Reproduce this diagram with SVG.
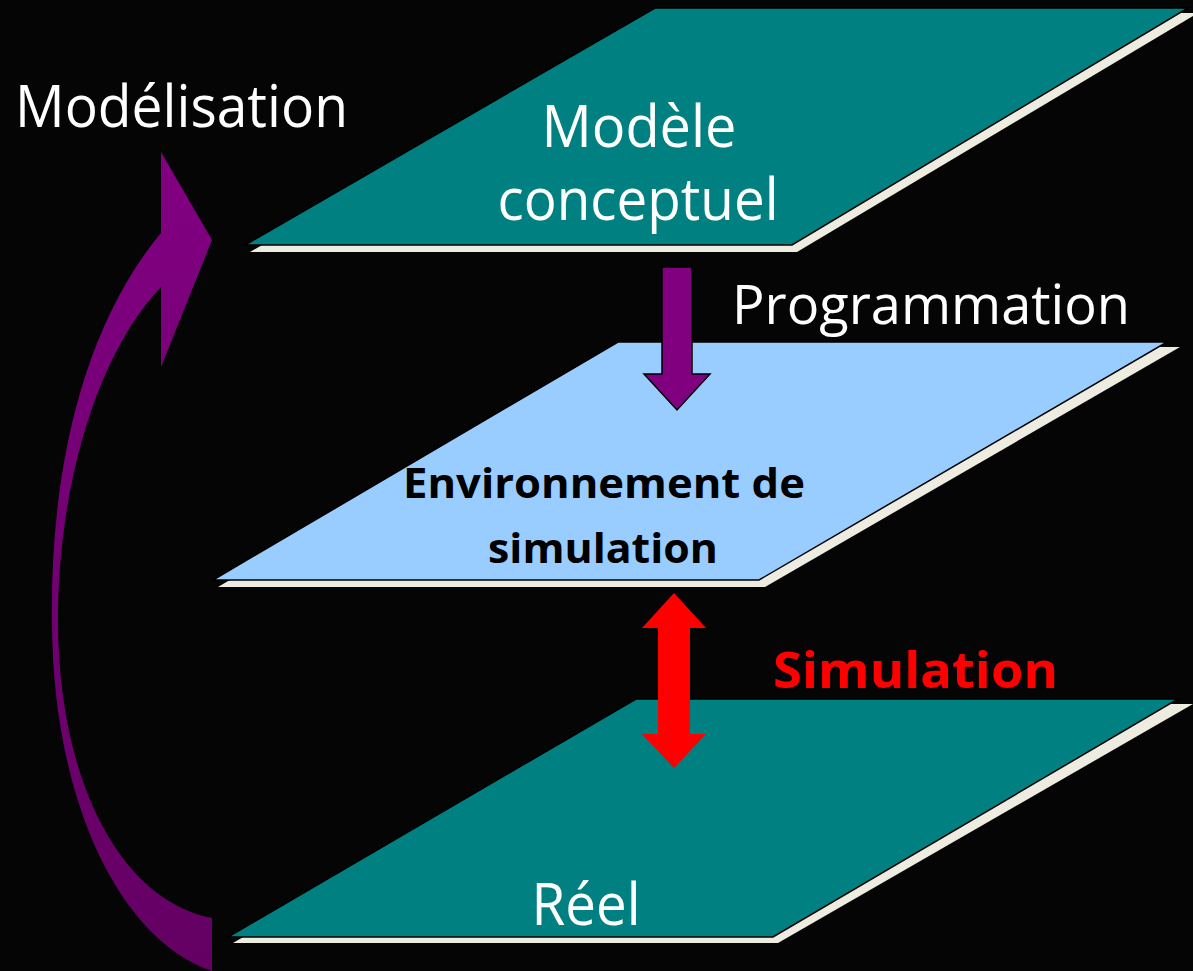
<svg xmlns="http://www.w3.org/2000/svg" width="1193" height="971" viewBox="0 0 1193 971">
  <style>
    .shadow { fill: #EEECE1; }
    .teal { fill: #008080; stroke: #000; stroke-width: 1.5; }
    .blue { fill: #99CCFF; stroke: #000; stroke-width: 1.5; }
    .lbl { font-family: "Open Sans", "Noto Sans", "Liberation Sans", sans-serif; }
    .white { fill: #FFFFFF; font-size: 58px; }
    .bold { font-weight: bold; }
  </style>
  <defs>
    <linearGradient id="purpleGrad" gradientUnits="userSpaceOnUse" x1="0" y1="150" x2="0" y2="971">
      <stop offset="0" stop-color="#820082"/>
      <stop offset="1" stop-color="#640064"/>
    </linearGradient>
  </defs>
  <rect x="0" y="0" width="1193" height="971" fill="#050505"/>

  <g id="node-modele-conceptuel">
    <polygon class="shadow" points="660,13 1193,13 1193,16 797,252 250,252"/>
    <polygon class="teal" points="655,8 1188,8 792,245 245,245"/>
    <text class="lbl white" x="639" y="147" text-anchor="middle" textLength="195" lengthAdjust="spacingAndGlyphs">Modèle</text>
    <text class="lbl white" x="638" y="220" text-anchor="middle" textLength="281" lengthAdjust="spacingAndGlyphs">conceptuel</text>
  </g>

  <g id="node-environnement">
    <polygon class="shadow" points="623,347 1180,347 765,587 218,587"/>
    <polygon class="blue" points="618,342 1167,342 759,580 213,580"/>
    <text class="lbl bold" x="604" y="498" font-size="41" fill="#000" text-anchor="middle" textLength="402" lengthAdjust="spacingAndGlyphs">Environnement de</text>
    <text class="lbl bold" x="603" y="563" font-size="41" fill="#000" text-anchor="middle" textLength="230" lengthAdjust="spacingAndGlyphs">simulation</text>
  </g>

  <g id="node-reel">
    <polygon class="shadow" points="641,704 1193,704 778,943 233,943"/>
    <polygon class="teal" points="636,699 1178,699 773,937 228,937"/>
    <text class="lbl white" x="586" y="925" text-anchor="middle" textLength="109" lengthAdjust="spacingAndGlyphs">Réel</text>
  </g>

  <g id="connectors">
    <g id="edge-modelisation">
      <path fill="url(#purpleGrad)" d="M212,971 C120,940 52,800 52,620 C50,480 80,330 161,233 L161,152 L212,240 L161,367 L161,287 C100,350 58,480 58,620 C58,780 120,900 212,918 Z"/>
      <text class="lbl white" x="15" y="127" textLength="333" lengthAdjust="spacingAndGlyphs">Modélisation</text>
    </g>
    <g id="edge-programmation">
      <polygon points="662,267 692,267 692,374 710,374 677,410 644,374 662,374" fill="#800080" stroke="#000" stroke-width="1.5"/>
      <text class="lbl" x="732" y="324" font-size="54" fill="#FFFFFF" textLength="398" lengthAdjust="spacingAndGlyphs">Programmation</text>
    </g>
    <g id="edge-simulation">
      <polygon points="674,593 706,628 690,628 690,734 706,734 674,768 642,734 658,734 658,628 642,628" fill="#FF0000"/>
      <text class="lbl bold" x="773" y="688" font-size="51" fill="#FF0000" textLength="285" lengthAdjust="spacingAndGlyphs">Simulation</text>
    </g>
  </g>
</svg>
